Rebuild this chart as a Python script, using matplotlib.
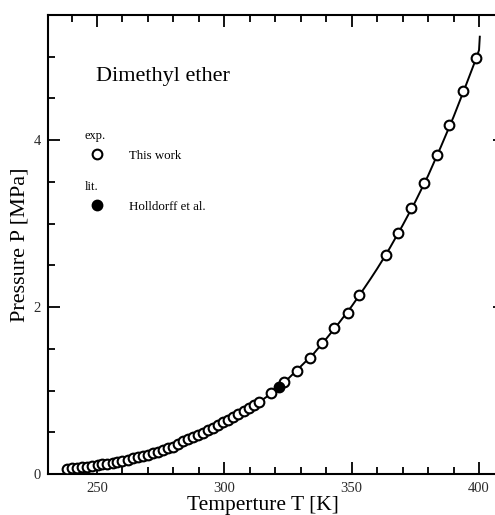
#Importing the Required Libraries and Modules
import matplotlib
matplotlib.use("Agg")
import matplotlib.pyplot as plt
from matplotlib.ticker import MultipleLocator

plt.rcParams['font.family'] = ['Liberation Serif', 'DejaVu Serif']

exp_T = [238.3, 240.3, 242.3, 244.2, 246.2, 248.2, 250.2, 252.1, 254.1, 256.1,
         258.0, 260.0, 262.0, 264.0, 265.9, 267.9, 269.9, 271.9, 273.8, 275.8,
         277.8, 279.8, 281.8, 283.9, 285.9, 287.8, 289.8, 291.8, 293.7, 295.7,
         297.6, 299.6, 301.6, 303.5, 305.5, 307.7, 309.8, 311.7, 313.6, 318.3,
         323.6, 328.4, 333.7, 338.5, 343.2, 348.5, 353.0, 363.4, 368.1, 373.3,
         378.3, 383.4, 388.4, 393.9, 398.9]
exp_P = [0.060, 0.066, 0.073, 0.080, 0.088, 0.096, 0.105, 0.115, 0.125, 0.136,
         0.148, 0.160, 0.173, 0.187, 0.201, 0.216, 0.232, 0.249, 0.267, 0.286,
         0.306, 0.327, 0.360, 0.390, 0.416, 0.440, 0.467, 0.495, 0.527, 0.554,
         0.587, 0.619, 0.647, 0.683, 0.719, 0.754, 0.794, 0.826, 0.859, 0.974,
         1.106, 1.237, 1.390, 1.565, 1.750, 1.930, 2.140, 2.620, 2.890, 3.190,
         3.490, 3.820, 4.180, 4.590, 4.990]

#Literature point (Holldorff et al.)
lit_T = [321.5]
lit_P = [1.046]

#Correlation curve
curve_T = [238, 240, 245, 250, 255, 260, 265, 270, 275, 280, 285, 290, 295,
           300, 305, 310, 315, 320, 325, 330, 335, 340, 345, 350, 355, 357.5,
           360, 362.5, 365, 370, 375, 380, 385, 390, 395, 398, 399, 400, 400.3]
curve_P = [0.060, 0.068, 0.088, 0.110, 0.135, 0.162, 0.197, 0.237, 0.284, 0.338,
           0.400, 0.470, 0.545, 0.625, 0.710, 0.800, 0.890, 1.000, 1.140, 1.290,
           1.440, 1.620, 1.810, 2.010, 2.230, 2.343, 2.460, 2.583, 2.710, 2.980,
           3.265, 3.575, 3.920, 4.280, 4.670, 4.910, 4.990, 5.080, 5.240]

fig = plt.figure(figsize=(4.95, 5.15), dpi=100)
ax = fig.add_axes([48/495, 41/515, 456.5/495, 459/515])

ax.plot(curve_T, curve_P, color='black', lw=1.4, zorder=2)
ax.plot(exp_T, exp_P, 'o', ms=7.0, mfc='white', mec='black', mew=1.5,
        zorder=3, label='This work')
ax.plot(lit_T, lit_P, 'o', ms=7.0, mfc='black', mec='black', mew=1.5,
        zorder=4, label='Holldorff et al.')

ax.set_xlim(230.75, 410)
ax.set_ylim(0, 5.5)

ax.xaxis.set_major_locator(MultipleLocator(50))
ax.xaxis.set_minor_locator(MultipleLocator(10))
ax.yaxis.set_major_locator(MultipleLocator(2))
ax.yaxis.set_minor_locator(MultipleLocator(0.5))
ax.tick_params(which='both', direction='in', top=True, right=True,
               width=1.3, labelsize=10.5, labelcolor='#2a2a2a')
ax.tick_params(which='major', length=8.5)
ax.tick_params(which='minor', length=5)
ax.tick_params(axis='x', pad=6)
ax.tick_params(axis='y', pad=5)
for s in ax.spines.values():
    s.set_linewidth(1.5)

ax.set_xlabel('Temperture T [K]', fontsize=15.5)
ax.xaxis.set_label_coords(0.471, -0.047)
ax.set_ylabel('Pressure P [MPa]', fontsize=16)
ax.yaxis.set_label_coords(-0.04, 0.5)

#Title and legend
ax.text(0.105, 0.856, 'Dimethyl ether', fontsize=16, transform=ax.transAxes,
        va='baseline', ha='left')
ax.text(0.081, 0.736, 'exp.', fontsize=9, transform=ax.transAxes,
        va='center', ha='left')
ax.text(0.081, 0.625, 'lit.', fontsize=9, transform=ax.transAxes,
        va='center', ha='left')
ax.legend(loc='upper left', bbox_to_anchor=(0.0936, 0.7064), frameon=False,
          fontsize=9.3, handlelength=1.0, handletextpad=2.0, borderpad=0,
          borderaxespad=0, labelspacing=3.0, numpoints=1)

fig.savefig('out.png', dpi=100)
